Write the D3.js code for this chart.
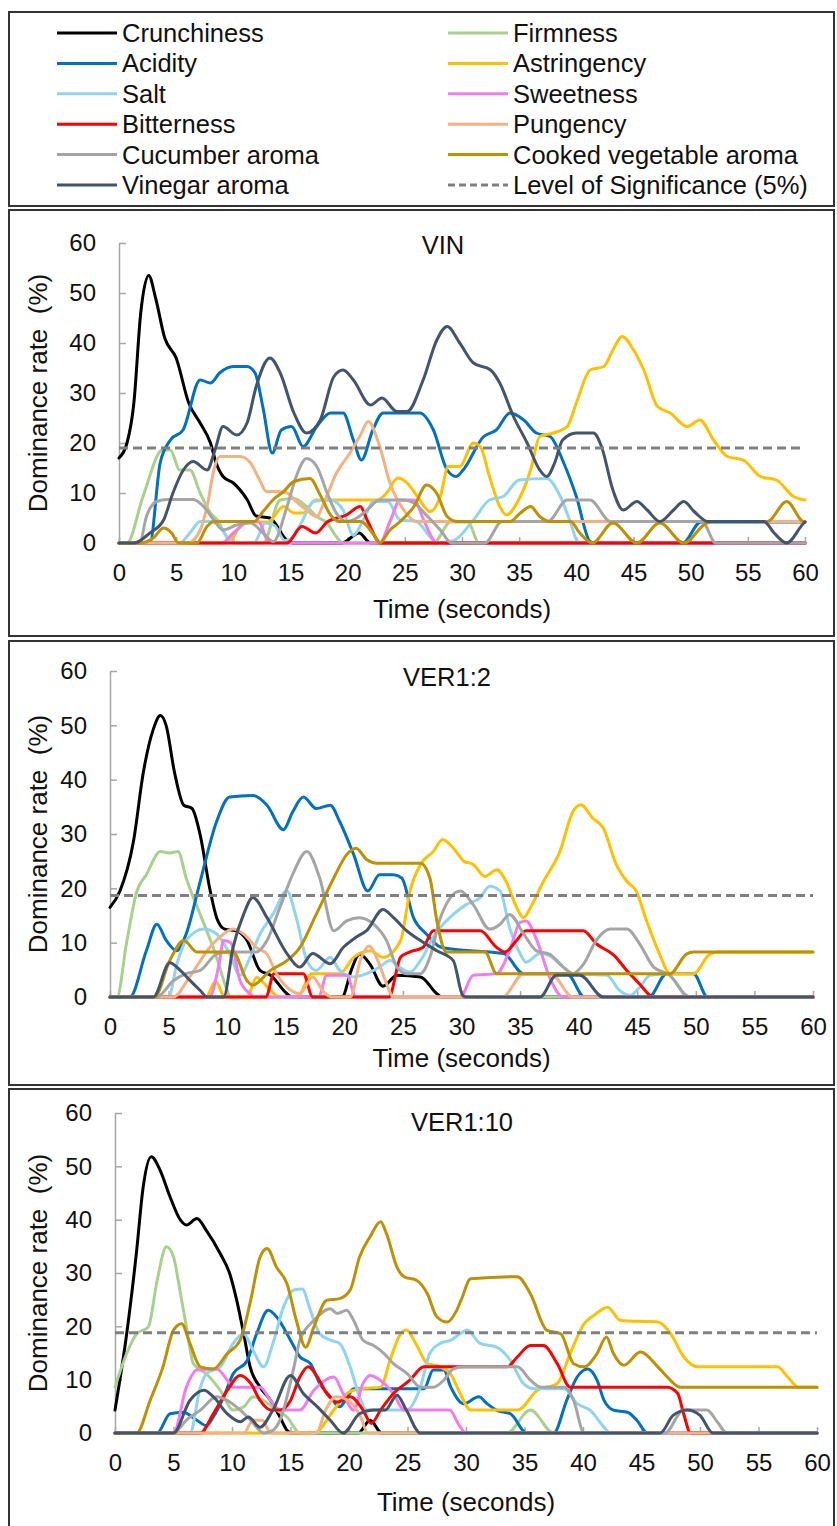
<!DOCTYPE html>
<html lang="en">
<head>
<meta charset="UTF-8" />
<title>TDS dominance curves – VIN / VER1:2 / VER1:10</title>
<script src="https://d3js.org/d3.v7.min.js"></script>
<style>
  body { margin: 0; background: #fff; }
  svg { display: block; font-family: "Liberation Sans", Arial, sans-serif; }
  .lbl { font-size: 25.5px; fill: #111; }
  .ttl { font-size: 26px; fill: #111; white-space: pre; }
  .axis path, .axis line { stroke: #a6a6a6; stroke-width: 1.5; }
  .axis text { font-size: 24px; fill: #111; font-family: "Liberation Sans", Arial, sans-serif; }
  .series { fill: none; stroke-width: 3; stroke-linejoin: round; stroke-linecap: round; }
</style>
</head>
<body>
<svg id="chart" width="837" height="1526"></svg>
<script>
// attributes, in legend / drawing order
const attributes = ["Crunchiness", "Firmness", "Acidity", "Astringency", "Salt", "Sweetness",
  "Bitterness", "Pungency", "Cucumber aroma", "Cooked vegetable aroma", "Vinegar aroma"];
const colors = ["#000000", "#a9d18e", "#0070c0", "#ffc000", "#8fd4f0", "#f07cf0",
  "#ff0000", "#f4b183", "#a5a5a5", "#bf9000", "#44546a"];
const sigLabel = "Level of Significance (5%)";
const panelNames = ["VIN", "VER1:2", "VER1:10"];
const sigLevels = [19.0, 18.7, 18.8];
const timeTicks = d3.range(0, 61, 5);
const rateTicks = d3.range(0, 61, 10);

// ---- VIN : [time (s), dominance rate (%)]
const vinCrunchiness = [[0,17],[0.7,20],[1.3,28],[1.9,46],[2.6,53.5],[3.2,49],[4,41],[5,37],[6.1,28],[7.1,24],[8,20],[8.5,16],[9.1,13.3],[10,12],[11.2,8.7],[12,5.4],[13.2,5],[14.7,0.5],[15.2,0],[19.5,0],[21,2],[22,0],[60,0]];
const vinFirmness = [[0,0],[0.7,0],[2.1,9.3],[3.8,18.6],[4.5,18.6],[5.3,14.6],[6.2,14.6],[7.1,10],[8,6],[8.6,4.6],[9.4,1.3],[10,0],[12.6,0],[14.1,8.6],[15.3,8.9],[16.4,7.3],[17.3,5.3],[18.2,4],[19,1.3],[19.6,0],[27.5,0],[29,4.2],[30.5,4.2],[31.5,0],[60,0]];
const vinAcidity = [[0,0],[2.7,0],[3.6,16],[4.5,20.6],[5.6,22.6],[7.1,32.6],[8,32],[8.8,34],[10,35.3],[11.2,35.3],[11.9,34],[12.6,27],[13.4,18],[14.2,22.6],[15.1,23.3],[16.1,19.3],[17.3,23.3],[18.5,26],[19.6,26],[20.5,20.6],[21.2,16.6],[22.2,22.6],[23.1,26],[26.3,26],[27.5,22.6],[28.7,14.6],[29.5,13.3],[30.1,14.6],[31.9,21.3],[33,22.6],[34.2,26],[35.4,24.6],[36.5,22],[37.7,21.3],[38.9,16],[40,9.3],[41.2,0.3],[41.6,0],[49.3,0],[50.9,4.2],[60,4.2]];
const vinAstringency = [[0,0],[9.5,0],[10.5,3],[11.2,4.2],[13,4.2],[14.4,7.3],[15.3,6],[16.1,6],[17.2,8.6],[22.6,8.6],[23.4,10],[24.4,13],[25.2,12],[26.1,9.3],[27.2,6.3],[28.1,9.3],[28.8,15.3],[29.8,15.3],[31,20],[31.6,19.3],[32.4,13.3],[33.3,7.3],[33.9,5.6],[34.8,8],[36,14.6],[36.8,21.3],[38,22],[39.2,23.3],[40,28],[41.2,34.6],[42.4,35.3],[43.2,38.6],[44,41.3],[45,38.6],[45.9,34.6],[47.1,27.3],[48.2,26],[49.7,23.3],[50.8,24.6],[52,20.6],[53.2,17.3],[54.6,16.6],[56.1,13.3],[57.5,12.6],[59,9.3],[60,8.6]];
const vinSalt = [[0,0],[5.3,0],[6.2,2],[7.1,4.3],[8,4.3],[8.8,3.3],[9.7,0.6],[10.3,0],[11.8,0],[12.8,4],[13.6,3.5],[14.5,0.5],[15,0.8],[16,4.3],[17,8.3],[18.5,8.6],[19.6,6.6],[20.5,1.5],[21.3,4.3],[22.3,8.3],[23.5,8.3],[24.6,4.6],[26,4.3],[27.2,1.3],[28,0],[29.3,0.5],[31,4.6],[32.4,8.6],[33.6,9.3],[35,12.6],[37.4,12.9],[38.6,9.3],[39.5,4],[40.1,0.3],[40.5,0],[60,0]];
const vinSweetness = [[0,0],[9,0],[10,2],[11.4,4.3],[12.2,4.3],[13,0.5],[13.5,0],[22.8,0],[23.7,4.3],[24.6,8.6],[25.8,8.6],[26.7,4.3],[27.8,0],[60,0]];
const vinBitterness = [[0,0],[14.7,0],[16,3.3],[17.2,2],[18.2,4.2],[19.9,5.6],[21.1,7.3],[21.7,4.6],[22.9,0],[60,0]];
const vinPungency = [[0,0],[6,0],[7.1,2.6],[7.7,7.3],[8.3,14.6],[8.8,17.3],[10.6,17.3],[11.5,16],[12.3,12.6],[12.9,10.3],[13.8,10.3],[14.7,10],[15.5,8.3],[16.4,6.6],[17.3,5.3],[17.9,7.9],[19,13.9],[20.2,18],[21.1,21.5],[21.8,24.3],[22.8,19.3],[23.7,12],[24.9,6.6],[26,4.3],[60,4.3]];
const vinCucumber = [[0,0],[1.8,0],[2.4,5.3],[3.3,8.3],[4.2,8.7],[6.5,8.7],[7.4,7.3],[8.3,4.6],[9.1,2.6],[10.3,3.6],[11.5,4],[12.6,2],[13.5,0.3],[14.7,7.3],[15.5,13.3],[16.4,16.9],[17.3,15.3],[18.2,10],[19,6],[19.9,4.3],[20.8,5],[21.7,6.6],[22.8,8.6],[24.9,8.6],[25.8,8],[27,5.3],[28.1,2.6],[29.1,0],[32,0],[33.5,4.3],[37.5,4.3],[39.2,8.6],[41.2,8.6],[43,4.3],[51,4.3],[52.2,0],[60,0]];
const vinCooked = [[0,0],[1.8,0],[3,1],[3.9,3],[4.6,2],[5.2,0],[6.8,0],[7.7,3.3],[8.3,4.3],[11.8,4.3],[12.6,6.3],[13.5,8.7],[14.4,10.3],[15.3,12.3],[16.7,12.9],[17.6,9.6],[18.5,5.6],[19.3,4.3],[21.1,4.3],[22.3,1.6],[22.8,0],[23.7,2.6],[24.6,4.3],[25.8,7.3],[26.9,11.6],[27.8,9.9],[28.7,5.3],[29.6,4.3],[34.2,4.3],[35.1,6],[36,7.3],[36.8,5.3],[37.7,4.3],[39.5,4.3],[40.3,2],[41.4,0],[43.2,4],[45.3,0],[47.3,4],[49.4,0],[51.4,4],[52,4.3],[56.7,4.3],[58.4,8.3],[59.9,4.3],[60,4.3]];
const vinVinegar = [[0,0],[1.3,0],[2.7,2],[3.9,4.6],[4.7,9.9],[5.6,14.5],[6.5,16.3],[7.7,14.6],[8.4,18.6],[9.1,23.3],[10.3,21.6],[11.2,24],[12,31.3],[13.2,37],[14.1,34],[15.3,26],[16.4,22],[17.6,24.6],[18.8,33.3],[19.6,34.6],[20.5,32.6],[22,27.6],[23,29],[24.3,26.3],[25.2,26.3],[26.6,32.6],[27.8,40.6],[28.7,43.3],[29.8,40],[31,36],[32.5,34.6],[33.3,32],[34.5,25.3],[35.7,20],[36.8,14.6],[37.4,13.3],[38.1,16],[38.8,20.6],[40,22],[41.5,22],[42.2,19.3],[43.2,10.6],[44.1,6.6],[45.3,8.3],[46.2,6.6],[47.3,4.3],[48.5,6.6],[49.4,8.3],[50.3,6.3],[51.5,4.3],[56.4,4.3],[57.3,2],[58.4,0],[59.9,4],[60,4.2]];

// ---- VER1:2
const v12Crunchiness = [[0,16.5],[0.85,19.5],[2,28.6],[2.85,41.4],[3.7,49.3],[4.3,51.8],[4.8,49.9],[5.5,41.4],[6.3,35.3],[7,34.7],[7.7,29.8],[8.5,20.1],[9.1,14.6],[9.8,12.5],[10.8,12.2],[11.7,10.4],[12.8,4.9],[13.7,4],[15.1,0.6],[15.5,0],[19.8,0],[20.6,5],[21.3,7.9],[22.2,6],[23.3,2],[24.5,4],[26.5,3.7],[27.9,0.6],[28.3,0],[60,0]];
const v12Firmness = [[0,0],[0.6,0],[1.4,9.8],[2.3,19.5],[3.1,22.5],[4.3,26.8],[5.1,26.5],[5.8,26.8],[6.5,21.9],[7.7,15.2],[9.1,7.3],[9.9,1.8],[10.3,0],[60,0]];
const v12Acidity = [[0,0],[1.7,0],[3.1,8.5],[4,13.4],[4.8,10.4],[5.7,8.5],[6.5,11.6],[7.7,21.3],[9.1,32.3],[10.2,36.8],[12.2,37.1],[13.4,35.3],[14.8,30.8],[15.6,34.1],[16.5,36.8],[17.6,34.7],[18.8,35.3],[19.6,32.3],[20.8,26.2],[22,19.5],[23,22.5],[24.2,22.5],[24.9,21.9],[25.9,14.6],[27,11.6],[28.2,9.2],[29.3,8.8],[33.6,8],[35.3,4.3],[39,4.3],[40.5,0],[46,0],[47.5,4.3],[49.8,4.3],[51,0],[60,0]];
const v12Astringency = [[0,0],[8.2,0],[9,2.9],[9.8,0],[11.7,0],[12.5,3.6],[13.7,1.2],[14.5,0],[16,0],[17.2,4.3],[19.6,4.3],[20.8,7.3],[22.2,8.5],[23.3,7.3],[24.8,10.4],[25.6,19.5],[26.5,24.4],[27.6,26.8],[28.4,29],[29.3,27.4],[30.2,25],[31,24.4],[32,22.2],[33,23.4],[33.8,21.3],[34.7,16.5],[35.3,14.6],[35.9,16.5],[37,21.3],[38.4,26.8],[39.5,34.1],[40.2,35.4],[41.2,32.9],[42.1,31.1],[43.2,24.4],[44.1,21.3],[44.9,19.5],[45.8,14],[46.9,7.9],[47.8,4.3],[49.8,4.3],[51.2,7.9],[52,8.3],[60,8.3]];
const v12Salt = [[0,0],[5,0],[5.7,6],[6.5,10.4],[8,12.5],[9.1,11.6],[10.2,8],[11.1,4],[11.9,7],[12.8,11.6],[13.9,15.2],[15.1,19.5],[15.9,14.6],[16.8,6.7],[17.6,4.9],[18.8,7.3],[19.6,4.9],[20.8,3.7],[21.9,4.3],[23,5.5],[23.9,6.7],[24.7,5.5],[25.6,4.6],[26.5,6.7],[27.6,11],[28.2,12.8],[29.3,15.2],[30.4,17],[31.6,18.3],[32.4,20.4],[33.3,19.5],[34.1,12.8],[35,8],[35.5,6.4],[36.7,8],[37.5,7.6],[38.7,5.5],[39.5,4.3],[42.4,4],[43.5,1.2],[44.4,0.3],[45.2,1.8],[46.1,4],[47.5,4.3],[48.5,2],[49.2,0],[60,0]];
const v12Sweetness = [[0,0],[8.5,0],[9.3,6],[9.7,10.4],[10.3,10],[11.1,3],[12,0.5],[12.3,0],[17.8,0],[18.5,4],[20.2,4],[21,0],[29.9,0],[31,4],[33,4.3],[34.1,8.5],[35,13.7],[35.5,14],[36.4,10.6],[37.5,3.7],[38.4,0.3],[38.7,0],[60,0]];
const v12Bitterness = [[0,0],[13.3,0],[14,4.3],[16.5,4.3],[17.3,0],[23.8,0],[24.8,7.3],[25.6,8.3],[26.7,9.1],[27.6,12.2],[31.6,12.2],[33,9.1],[33.7,8.3],[34.7,10.4],[35.5,12.2],[40.4,12.2],[41.5,9.8],[43,7.7],[44.1,4.9],[45.2,2.4],[46.1,0.3],[46.4,0],[60,0]];
const v12Pungency = [[0,0],[5.4,0],[6.8,3.7],[8.5,9.1],[9.7,11.6],[10.5,12.5],[11.4,11.6],[12.5,9.1],[13.4,7.9],[14.2,4.3],[15.1,1.8],[16.2,0.6],[17.3,3.7],[18.2,1],[19,0],[20.5,0],[21.4,7],[22.1,9.4],[22.8,7],[23.5,3],[24.2,0],[33.5,0],[35.3,4.3],[37.6,4.3],[39.5,0],[60,0]];
const v12Cucumber = [[0,0],[4,0],[5.4,3],[6.5,4.3],[7.7,4.9],[9.1,7.9],[10.2,8.3],[12.5,8.3],[13.4,10.4],[14.5,16.5],[15.6,22.6],[16.8,26.8],[17.9,21.9],[19.1,12.2],[20.2,14],[21.3,14.6],[22.5,13.4],[23.6,10.4],[24.5,5.5],[25.3,4.3],[26.5,4.3],[27.3,7.3],[28.2,14.6],[29.9,19.5],[31,17],[32.4,12.5],[33.3,13.4],[34.1,15.2],[35.3,11.6],[36.4,8.5],[37.5,7.9],[38.7,5.5],[39.5,4.3],[40.4,6],[41.5,10.4],[42.7,12.5],[44.1,12.5],[45.2,9.8],[46.4,5.5],[47.8,4],[49.2,0.3],[49.5,0],[60,0]];
const v12Cooked = [[0,0],[3.8,0],[5.1,6.7],[6.3,10.4],[7.4,8.3],[10.5,8.3],[11.7,3],[12.2,2.2],[13.7,4.9],[15.1,6.7],[16.2,9.1],[17.6,15.2],[19.1,21.9],[20.2,26.2],[21,27.4],[21.9,25.3],[22.8,24.6],[26.5,24.6],[27.3,21.9],[27.9,14],[28.7,8.3],[32,8.3],[33,4.3],[47.8,4.3],[49.2,7.9],[49.8,8.3],[60,8.3]];
const v12Vinegar = [[0,0],[3.7,0],[5.1,6.3],[6,4.9],[6.8,3.1],[7.7,1.2],[8.3,0],[9.7,0],[10.5,9.1],[11.4,15.2],[12.2,18.3],[13.4,14.6],[15.1,8],[16.2,5.5],[17.3,8],[18.8,6.1],[19.9,9.1],[21,11],[21.9,12.2],[23.3,16.1],[24.2,14.6],[25.3,12.2],[26.5,10.4],[27.9,8.5],[29.3,6.7],[30.1,0.3],[30.4,0],[36.7,0],[38.1,4],[40.1,4],[42.1,0],[60,0]];

// ---- VER1:10
const v110Crunchiness = [[0,4.3],[1,18.6],[1.85,34.2],[2.4,46],[3.1,51.8],[3.85,49.3],[4.7,44.3],[5.6,39.9],[6.1,39],[7,40.2],[7.8,38],[9,33.6],[9.8,29.9],[10.4,24.9],[11,18.6],[11.55,12.4],[12.4,8.6],[13.3,6.1],[14.1,3],[14.7,0.5],[15,0],[20.8,0],[21.8,2.4],[22.8,0],[60,0]];
const v110Firmness = [[0,8.6],[1,14.9],[1.85,18.6],[2.85,19.9],[3.6,28.6],[4.4,34.9],[5,33],[5.6,26.1],[6.1,19.9],[6.7,13],[7.8,11.1],[9,8],[10.1,4.3],[11,4.9],[11.8,6.8],[12.7,6.1],[13.8,4.3],[14.7,3],[15.8,0],[33.5,0],[35.5,4.3],[37.5,0],[60,0]];
const v110Acidity = [[0,0],[3.6,0],[4.7,3.6],[5.8,3.9],[7,2.4],[7.8,1.4],[8.4,3],[9.3,6.8],[10.1,11.1],[11.3,13.6],[12.1,18.6],[13.1,23],[13.8,21.8],[15,17.4],[15.8,14.3],[16.7,13],[17.5,9.3],[18.4,6.8],[19.2,4.9],[19.8,6.5],[20.4,8.3],[26.4,8.3],[27.2,11.8],[28.1,11.8],[28.7,8.6],[29.8,5.5],[31.1,6.8],[31.8,5.5],[32.6,4.3],[33.8,3.6],[35.2,0],[37.5,0],[38.6,6.1],[39.5,10.5],[40.4,12],[41.2,9.9],[41.8,6.1],[42.6,4.3],[43.8,3.9],[44.6,2.4],[45.5,0],[60,0]];
const v110Astringency = [[0,0],[17,0],[18.7,4.3],[19.8,7.4],[21,8.3],[22.7,8.6],[23.5,13.6],[24.4,18.6],[24.9,19.3],[25.7,16.8],[26.7,13],[27.8,12.4],[28.7,11],[29.5,7.4],[30.4,4.3],[34.4,4.3],[36.1,8],[37.8,9.3],[38.9,14.9],[40.1,20.5],[40.9,22],[42.1,23.6],[43.2,21.1],[46.4,20.8],[47.5,18.6],[48.6,14.3],[49.8,12.4],[56.6,12.4],[57.5,10.5],[58.4,8.6],[60,8.6]];
const v110Salt = [[0,0],[6.4,0],[7.3,8.6],[7.8,11.1],[9,12.4],[10.1,16.8],[11,18.6],[11.8,15.5],[12.7,12.4],[13.5,16.8],[14.4,23.6],[15.3,26.8],[16,27],[16.7,23],[17.5,18.6],[18.4,17.4],[19.2,16.8],[20.1,12.4],[20.9,6.8],[21.5,4.3],[24.9,4.3],[26.1,8.6],[26.9,14.9],[27.8,16.8],[28.7,17.4],[29.5,18.6],[30.1,19.3],[31.2,16.8],[32.6,16.1],[33.8,13.6],[34.9,9.3],[35.8,8.3],[38.4,8.3],[39.5,5.5],[40.6,4.3],[41.8,1.1],[42.3,0],[60,0]];
const v110Sweetness = [[0,0],[5,0],[6.1,8.6],[7,11.8],[8.7,12],[9.6,9.9],[10.1,8.6],[12.4,8.6],[13.3,6.1],[14.1,4.3],[15.8,4.3],[17,8],[18.7,10.5],[19.5,7.4],[20.4,4.3],[21.2,9.3],[21.8,10.8],[23,9.3],[23.8,7.4],[24.7,4.3],[28.6,4.3],[29.4,1.5],[30,0],[60,0]];
const v110Bitterness = [[0,0],[7.3,0],[8.4,3.6],[9.6,8],[10.7,10.8],[11.6,9.3],[12.4,6.1],[13.3,4.3],[14.1,4.3],[15,6.1],[15.8,10.5],[16.5,12.4],[17.3,10.5],[18.1,7.4],[19,5.8],[20.1,6.8],[21.2,4.3],[21.9,1.8],[22.7,4.3],[23.8,7.4],[25.2,9.9],[26.4,12.4],[33.5,12.4],[34.4,14.3],[35.5,16.4],[36.6,16.4],[37.8,13],[38.9,8.6],[47.2,8.6],[48.1,7.4],[48.6,3.6],[49.2,0],[60,0]];
const v110Pungency = [[0,0],[11,0],[11.8,2.4],[12.6,2.4],[13.3,0],[17.2,0],[18,4.3],[18.9,6.8],[20,6],[21,3],[21.6,0],[60,0]];
const v110Cucumber = [[0,0],[5,0],[6.1,2.4],[7.3,4.3],[8.7,6.8],[9.6,6.1],[10.7,4.3],[11.6,2.4],[12.7,0],[13.5,0.5],[14.1,2.4],[15.3,12.4],[15.8,17.4],[17,21.1],[18.4,23.3],[19,22.4],[19.8,23],[20.4,21.1],[21.2,17.4],[22.1,16.4],[23,14.9],[23.8,13],[25,11.1],[26.1,8.6],[27.2,8.6],[28.1,9.9],[28.9,12],[29.8,12.4],[34.4,12.4],[35.5,9.9],[36.4,8.6],[38.4,8.6],[39.2,6.1],[40.1,0],[47,0],[48.6,4.3],[50.6,4.3],[51.5,2],[52.3,0],[60,0]];
const v110Cooked = [[0,0],[1.85,0],[3,6.1],[4.1,12.4],[5,19.3],[5.7,20.5],[6.4,16.8],[7.3,12.4],[8.4,12],[9.6,14.9],[10.7,17.4],[11.6,24.9],[12.4,33],[13,34.6],[13.8,31.1],[14.7,28],[15.5,21.1],[16.3,16.1],[17,19.9],[18.1,24.9],[19.2,25.2],[20.1,26.8],[20.9,33],[21.8,36.8],[22.7,39.6],[23.2,37.4],[24.1,31.1],[24.7,29.3],[25.8,28.6],[26.7,26.1],[27.5,21.8],[28.4,20.8],[29.2,23],[29.6,25],[30.4,28.9],[34.4,29.3],[35.5,26.1],[36.9,19.3],[38.1,18.6],[39.2,13],[40.1,12.4],[41.2,14.9],[42,18],[42.6,14.9],[43.5,12.7],[44.9,15.2],[46.4,12.4],[47.2,10.5],[48.3,8.6],[60,8.6]];
const v110Vinegar = [[0,0],[5,0],[6.4,6.1],[7.6,8],[8.4,6.8],[9.6,3.6],[10.7,2.1],[11.4,3],[12.4,1.1],[13.5,4.3],[15,10.8],[16.1,7.4],[17.3,4.9],[18.4,2.4],[19.5,0],[20.9,3.6],[22.1,4.3],[23.1,4.3],[24.1,7.1],[24.9,4.3],[26.1,0],[46.6,0],[47.7,3.3],[48.9,4.3],[50,3.3],[51.1,0],[60,0]];

const panelSeries = [
  [vinCrunchiness, vinFirmness, vinAcidity, vinAstringency, vinSalt, vinSweetness, vinBitterness, vinPungency, vinCucumber, vinCooked, vinVinegar],
  [v12Crunchiness, v12Firmness, v12Acidity, v12Astringency, v12Salt, v12Sweetness, v12Bitterness, v12Pungency, v12Cucumber, v12Cooked, v12Vinegar],
  [v110Crunchiness, v110Firmness, v110Acidity, v110Astringency, v110Salt, v110Sweetness, v110Bitterness, v110Pungency, v110Cucumber, v110Cooked, v110Vinegar]
];

// layout of the three framed panels (pixels)
const frames = [
  { box: [9, 210, 834, 636], x: [119, 805], y: [543, 243], title: [443, 245], xTitle: 66 },
  { box: [9, 641, 834, 1085], x: [110, 813], y: [997, 671], title: [447, 677], xTitle: 61 },
  { box: [9, 1089, 834, 1532], x: [115, 817], y: [1433, 1113], title: [462, 1122], xTitle: 69 }
];

const svg = d3.select("#chart");

// legend box
svg.append("rect")
  .attr("x", 9).attr("y", 12).attr("width", 825).attr("height", 194)
  .attr("fill", "none").attr("stroke", "#333").attr("stroke-width", 2);

const legendItems = attributes.map((a, i) => ({ name: a, color: colors[i], dash: null }))
  .concat([{ name: sigLabel, color: "#808080", dash: "7,4" }]);
const leg = svg.append("g").selectAll("g")
  .data(legendItems)
  .join("g")
  .attr("transform", (d, i) => `translate(${i % 2 ? 448 : 57},${33 + Math.floor(i / 2) * 30.4})`);
leg.append("line")
  .attr("x1", 0).attr("x2", 60)
  .attr("stroke", d => d.color).attr("stroke-width", 3)
  .attr("stroke-dasharray", d => d.dash);
leg.append("text")
  .attr("class", "lbl")
  .attr("x", 65).attr("dy", "0.35em")
  .text(d => d.name);

frames.forEach((f, p) => {
  const g = svg.append("g");
  g.append("rect")
    .attr("x", f.box[0]).attr("y", f.box[1])
    .attr("width", f.box[2] - f.box[0]).attr("height", f.box[3] - f.box[1])
    .attr("fill", "none").attr("stroke", "#333").attr("stroke-width", 2);

  const x = d3.scaleLinear().domain([0, 60]).range(f.x);
  const y = d3.scaleLinear().domain([0, 60]).range(f.y);

  g.append("g").attr("class", "axis")
    .attr("transform", `translate(0,${f.y[0]})`)
    .call(d3.axisBottom(x).tickValues(timeTicks).tickSizeInner(-6).tickSizeOuter(0).tickPadding(21))
    .call(a => a.selectAll("text").attr("font-size", null));

  g.append("g").attr("class", "axis")
    .attr("transform", `translate(${f.x[0]},0)`)
    .call(d3.axisLeft(y).tickValues(rateTicks).tickSizeInner(-7).tickSizeOuter(0).tickPadding(23))
    .call(a => a.selectAll("text").attr("font-size", null));

  const line = d3.line()
    .x(d => x(d[0]))
    .y(d => y(d[1]))
    .curve(d3.curveMonotoneX);

  g.append("g").selectAll("path")
    .data(panelSeries[p])
    .join("path")
    .attr("class", "series")
    .attr("stroke", (d, i) => colors[i])
    .attr("d", line);

  g.append("line")
    .attr("x1", x(0)).attr("x2", x(60))
    .attr("y1", y(sigLevels[p])).attr("y2", y(sigLevels[p]))
    .attr("stroke", "#808080").attr("stroke-width", 3)
    .attr("stroke-dasharray", "9,5");

  g.append("text").attr("class", "lbl")
    .attr("x", f.title[0]).attr("y", f.title[1]).attr("dy", "0.35em")
    .attr("text-anchor", "middle")
    .text(panelNames[p]);

  g.append("text").attr("class", "ttl")
    .attr("x", (f.x[0] + f.x[1]) / 2).attr("y", f.y[0] + f.xTitle).attr("dy", "0.35em")
    .attr("text-anchor", "middle")
    .text("Time (seconds)");

  g.append("text").attr("class", "ttl")
    .attr("transform", `translate(38,${(f.y[0] + f.y[1]) / 2}) rotate(-90)`)
    .attr("dy", "0.35em")
    .attr("text-anchor", "middle")
    .text("Dominance rate  (%)");
});
</script>
</body>
</html>
